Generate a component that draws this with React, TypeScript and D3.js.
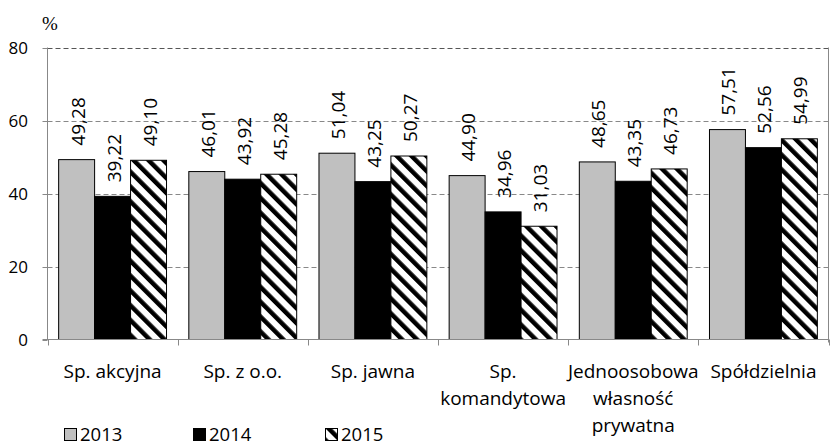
import React, { useEffect, useRef } from 'react'
import * as d3 from 'd3'

const categories = ['Sp. akcyjna', 'Sp. z o.o.', 'Sp. jawna', 'Sp.\nkomandytowa', 'Jednoosobowa\nwłasność\nprywatna', 'Spółdzielnia']
const years = ['2013', '2014', '2015']
const values2013 = [49.28, 46.01, 51.04, 44.9, 48.65, 57.51]
const values2014 = [39.22, 43.92, 43.25, 34.96, 43.35, 52.56]
const values2015 = [49.1, 45.28, 50.27, 31.03, 46.73, 54.99]
const yTicks = [0, 20, 40, 60, 80]

const W = 830
const H = 446
const FONT = '"Open Sans", sans-serif'

export default function App() {
  const ref = useRef<SVGSVGElement>(null)

  useEffect(() => {
    const svg = d3.select(ref.current)
    svg.selectAll('*').remove()

    const left = 47.5, right = 828.5, top = 47.5, bottom = 339.5
    const series = [values2013, values2014, values2015]
    const fills = ['#c0c0c0', '#000000', 'url(#hatch)']

    const defs = svg.append('defs')
    const pat = defs.append('pattern')
      .attr('id', 'hatch')
      .attr('patternUnits', 'userSpaceOnUse')
      .attr('width', 10.5)
      .attr('height', 10.5)
      .attr('patternTransform', 'rotate(-45)')
    pat.append('rect').attr('width', 10.5).attr('height', 10.5).attr('fill', '#fff')
    pat.append('rect').attr('x', 0).attr('y', 0).attr('width', 4.5).attr('height', 10.5).attr('fill', '#000')

    const x = d3.scaleBand().domain(categories).range([left, right])
    const xs = d3.scaleBand().domain(years).range([0, x.bandwidth()]).paddingOuter(0.31).paddingInner(0)
    const y = d3.scaleLinear().domain([0, 80]).range([bottom, top])

    // grid
    svg.append('g').selectAll('line')
      .data(yTicks.filter(t => t > 0))
      .enter().append('line')
      .attr('x1', left).attr('x2', right)
      .attr('y1', d => Math.round(y(d)) + 0.5).attr('y2', d => Math.round(y(d)) + 0.5)
      .attr('stroke', d => d === 80 ? '#555' : '#888')
      .attr('stroke-width', 1)
      .attr('stroke-dasharray', '5,3')

    // bars
    series.forEach((vals, si) => {
      svg.append('g').selectAll('rect')
        .data(vals)
        .enter().append('rect')
        .attr('x', (d, i) => x(categories[i])! + xs(years[si])!)
        .attr('y', d => y(d))
        .attr('width', xs.bandwidth())
        .attr('height', d => bottom - y(d))
        .attr('fill', fills[si])
        .attr('stroke', '#000')
        .attr('stroke-width', 1)

      svg.append('g').selectAll('text')
        .data(vals)
        .enter().append('text')
        .attr('transform', (d, i) => {
          const cx = x(categories[i])! + xs(years[si])! + xs.bandwidth() / 2 + 1
          return `translate(${cx},${y(d) - 14}) rotate(-90)`
        })
        .attr('dominant-baseline', 'central')
        .attr('font-family', FONT)
        .attr('font-size', 19)
        .attr('fill', '#000')
        .text(d => d.toFixed(2).replace('.', ','))
    })

    // axes
    const ax = svg.append('g').attr('stroke', '#888').attr('stroke-width', 1)
    ax.append('line').attr('x1', left).attr('x2', left).attr('y1', top).attr('y2', bottom)
    ax.append('line').attr('x1', right).attr('x2', right).attr('y1', top).attr('y2', bottom + 3)
    ax.append('line').attr('x1', left - 5).attr('x2', right).attr('y1', bottom).attr('y2', bottom)
    ax.selectAll('.yt').data(yTicks).enter().append('line')
      .attr('x1', left - 5).attr('x2', left)
      .attr('y1', d => Math.round(y(d)) + 0.5).attr('y2', d => Math.round(y(d)) + 0.5)
    const bounds = categories.map(c => x(c)!).concat([right])
    ax.selectAll('.xt').data(bounds).enter().append('line')
      .attr('x1', d => Math.round(d) + 0.5).attr('x2', d => Math.round(d) + 0.5)
      .attr('y1', bottom).attr('y2', bottom + 6)

    svg.append('g').selectAll('text')
      .data(yTicks)
      .enter().append('text')
      .attr('x', 28)
      .attr('y', d => y(d))
      .attr('dominant-baseline', 'central')
      .attr('text-anchor', 'end')
      .attr('font-family', FONT)
      .attr('font-size', 17)
      .text(d => d)

    svg.append('text')
      .attr('x', 42).attr('y', 30)
      .attr('font-family', '"Liberation Serif", serif')
      .attr('font-size', 19)
      .text('%')

    // category labels
    const cl = svg.append('g').selectAll('text')
      .data(categories)
      .enter().append('text')
      .attr('x', d => x(d)! + x.bandwidth() / 2)
      .attr('y', 378)
      .attr('text-anchor', 'middle')
      .attr('font-family', FONT)
      .attr('font-size', 19)
    cl.selectAll('tspan')
      .data(d => d.split('\n'))
      .enter().append('tspan')
      .attr('x', function () { return (this.parentNode as SVGTextElement).getAttribute('x') })
      .attr('dy', (d, i) => i === 0 ? 0 : 27)
      .text(d => d)

    // legend
    const legendX = d3.scaleOrdinal<string, number>().domain(years).range([64, 193, 325])
    const lg = svg.append('g').selectAll('g')
      .data(years)
      .enter().append('g')
      .attr('transform', d => `translate(${legendX(d)},428)`)
    lg.append('rect')
      .attr('x', 0.5).attr('y', 0.5).attr('width', 12).attr('height', 12)
      .attr('fill', (d, i) => fills[i])
      .attr('stroke', '#000')
    lg.append('text')
      .attr('x', 16).attr('y', 12.5)
      .attr('font-family', FONT)
      .attr('font-size', 18.5)
      .text(d => d)
  }, [])

  return <svg ref={ref} width={W} height={H} style={{ position: 'absolute', left: 0, top: 0, background: '#fff' }} />
}
